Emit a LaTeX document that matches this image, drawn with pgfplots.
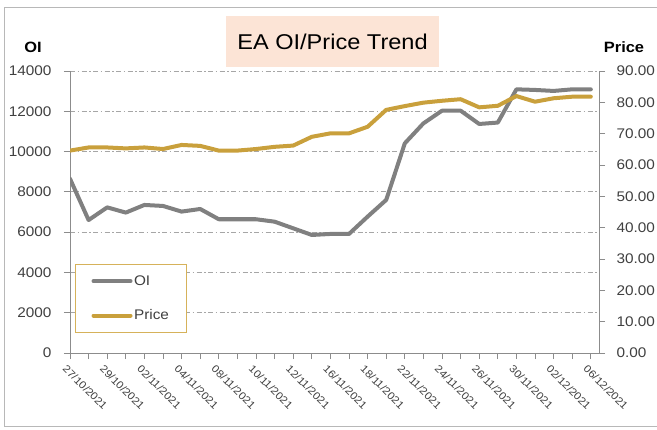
\documentclass[border=0pt]{standalone}
\usepackage{pgfplots}
\pgfplotsset{compat=1.18}
\usepackage{pgfplotstable}
\usepackage{fontspec}
\setmainfont{Liberation Sans}[FakeStretch=1.1]
\definecolor{oigray}{HTML}{808080}
\definecolor{pricegold}{HTML}{C9A03C}
\definecolor{gridgray}{HTML}{A6A6A6}
\definecolor{axisgray}{HTML}{8C8C8C}
\definecolor{titlebg}{HTML}{FCE4D6}
\definecolor{leggold}{HTML}{D6B25A}
\definecolor{labgray}{HTML}{404040}

\pgfplotstableread{
idx oi price
0 8650 64.6
1 6600 65.6
2 7230 65.6
3 6970 65.3
4 7350 65.6
5 7300 65.1
6 7020 66.4
7 7150 66.1
8 6640 64.6
9 6640 64.6
10 6640 65.1
11 6520 65.8
12 6190 66.2
13 5860 69.0
14 5910 70.1
15 5910 70.1
16 6770 72.2
17 7600 77.6
18 10410 78.8
19 11400 79.9
20 12030 80.5
21 12030 81.0
22 11370 78.4
23 11440 78.9
24 13090 82.0
25 13060 80.2
26 13010 81.3
27 13090 81.8
28 13090 81.8
}\datatable

\pgfplotsset{
  common/.style={
    at={(70bp,77bp)}, anchor=south west,
    scale only axis, width=529bp, height=282bp,
    xmin=0, xmax=28.44,
    axis line style={axisgray, line width=0.8bp},
    tick style={axisgray, line width=0.8bp},
    tick align=outside,
    major tick length=6bp, minor tick length=6bp,
    scaled y ticks=false,
    /pgf/number format/assume math mode=true,
    tick label style={text=labgray},
  },
  oistyle/.style={oigray, line width=4bp, line join=round, line cap=round},
  pricestyle/.style={pricegold, line width=4bp, line join=round, line cap=round},
}

\begin{document}
\begin{tikzpicture}
\useasboundingbox (0bp,0bp) rectangle (657bp,430bp);
\draw[black!28, line width=0.8bp] (4.5bp,4bp) rectangle (690bp,423bp);
\fill[titlebg] (226bp,363bp) rectangle (439bp,414bp);
\node[font=\fontsize{21.5}{24}\selectfont] at (332.5bp,388.5bp) {EA OI/Price Trend};
\node[font=\bfseries\fontsize{15}{17}\selectfont] at (33bp,383bp) {OI};
\node[font=\bfseries\fontsize{15}{17}\selectfont] at (624bp,383bp) {Price};

\begin{axis}[common,
  ymin=0, ymax=14000,
  axis y line*=left, axis x line*=bottom,
  ytick={0,2000,...,14000},
  yticklabel style={font=\fontsize{14}{16}\selectfont, xshift=-9bp, /pgf/number format/fixed, /pgf/number format/1000 sep={}},
  ymajorgrids,
  grid style={gridgray, line width=0.8bp, dash pattern=on 5bp off 2.5bp on 1.5bp off 2.5bp},
  xtick={0,2,...,28},
  minor xtick={1,3,...,27},
  xticklabels={27/10/2021,29/10/2021,02/11/2021,04/11/2021,08/11/2021,10/11/2021,12/11/2021,16/11/2021,18/11/2021,22/11/2021,24/11/2021,26/11/2021,30/11/2021,02/12/2021,06/12/2021},
  xticklabel style={font=\fontsize{10.5}{12}\selectfont, rotate=-45, anchor=north west, xshift=-1.5bp, yshift=-2bp},
]
\addplot[oistyle] table[x=idx, y=oi] {\datatable};
\end{axis}

\begin{axis}[common,
  ymin=0, ymax=90,
  axis y line*=right, axis x line=none,
  ytick={0,10,...,90},
  yticklabel style={font=\fontsize{14}{16}\selectfont, xshift=8bp, /pgf/number format/fixed, /pgf/number format/fixed zerofill, /pgf/number format/precision=2},
  legend image code/.code={\draw[#1] (0bp,0bp) -- (37bp,0bp);},
  legend style={at={(axis description cs:0.0095,0.3156)}, anchor=north west,
    draw=leggold, line width=1bp, fill=white,
    inner xsep=16bp, inner ysep=9bp, row sep=19bp,
    font=\fontsize{14}{16}\selectfont, text=labgray,
    nodes={inner xsep=1.5bp}},
  legend cell align=left,
]
\addlegendimage{oistyle}
\addlegendentry{OI}
\addplot[pricestyle] table[x=idx, y=price] {\datatable};
\addlegendentry{Price}
\end{axis}
\end{tikzpicture}
\end{document}
